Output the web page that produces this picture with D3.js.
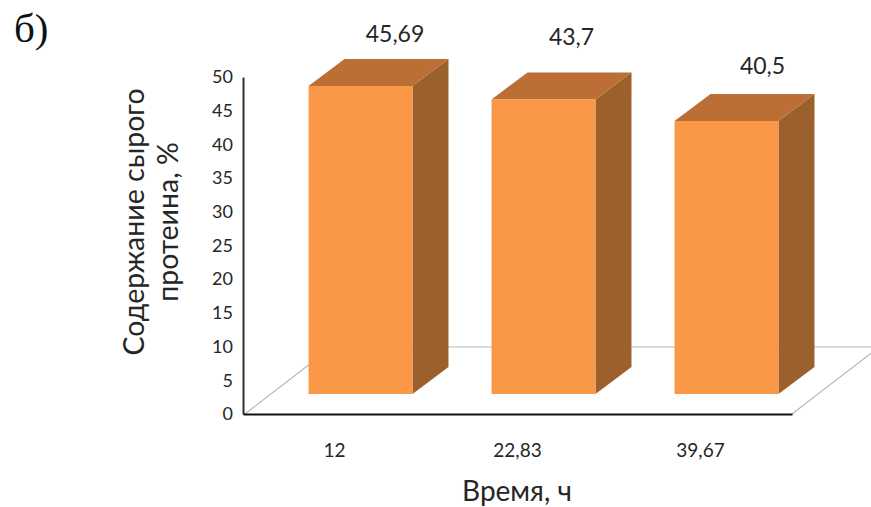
<!DOCTYPE html>
<html>
<head>
<meta charset="utf-8">
<script src="https://cdn.jsdelivr.net/npm/d3@7"></script>
<style>
html,body{margin:0;padding:0;background:#fff}
text{font-family:"Lato","Open Sans",sans-serif;fill:#262626}
</style>
</head>
<body>
<svg id="chart" width="871" height="507"></svg>
<script>
const categories = ["12", "22,83", "39,67"];
const protein = [45.69, 43.7, 40.5];
const valueLabels = ["45,69", "43,7", "40,5"];
const yTicks = [0, 5, 10, 15, 20, 25, 30, 35, 40, 45, 50];
const panelLabel = "б)";
const yTitle = ["Содержание сырого", "протеина, %"];
const xTitle = "Время, ч";

const svg = d3.select("#chart");

const plot = {left: 243, right: 792, top: 77, bottom: 414};
const x = d3.scaleBand().domain(categories).range([plot.left, plot.right])
  .paddingInner(0.432).paddingOuter(0.216);
const y = d3.scaleLinear().domain([0, 50]).range([plot.bottom, plot.top]);

// Oblique projection: the floor recedes along this vector, bars stand in its middle
const floorDepth = {dx: 87, dy: -67};
const barOffset = {dx: 26, dy: -20};
const barDepth = {dx: 36, dy: -27};

const poly = pts => pts.map(p => p.join(",")).join(" ");

// Floor outline (back and side edges)
const floorColor = "#b8b8b8";
const floorEdges = [
  [[plot.left + 2, plot.bottom], [plot.left + floorDepth.dx + 2, plot.bottom + floorDepth.dy]],
  [[plot.left + floorDepth.dx + 2, plot.bottom + floorDepth.dy], [plot.right + floorDepth.dx, plot.bottom + floorDepth.dy]],
  [[plot.right, plot.bottom], [plot.right + floorDepth.dx, plot.bottom + floorDepth.dy]]
];
svg.append("g").selectAll("line").data(floorEdges).join("line")
  .attr("x1", d => d[0][0]).attr("y1", d => d[0][1])
  .attr("x2", d => d[1][0]).attr("y2", d => d[1][1])
  .attr("stroke", floorColor).attr("stroke-width", 1.2);

// 3D bars
const bars = svg.append("g").selectAll("g").data(categories.map((c, i) => ({c, v: protein[i], label: valueLabels[i]}))).join("g");

const front = d => {
  const x0 = x(d.c) + barOffset.dx, x1 = x0 + x.bandwidth();
  const yb = plot.bottom + barOffset.dy, yt = yb - (plot.bottom - y(d.v));
  return {x0, x1, yb, yt};
};
bars.append("polygon").attr("fill", "#9c602c").attr("points", d => {
  const f = front(d);
  return poly([[f.x1, f.yt], [f.x1 + barDepth.dx, f.yt + barDepth.dy], [f.x1 + barDepth.dx, f.yb + barDepth.dy], [f.x1, f.yb]]);
});
bars.append("polygon").attr("fill", "#bb6f34").attr("points", d => {
  const f = front(d);
  return poly([[f.x0, f.yt], [f.x0 + barDepth.dx, f.yt + barDepth.dy], [f.x1 + barDepth.dx, f.yt + barDepth.dy], [f.x1, f.yt]]);
});
bars.append("polygon").attr("fill", "#fb9847").attr("points", d => {
  const f = front(d);
  return poly([[f.x0, f.yt], [f.x1, f.yt], [f.x1, f.yb], [f.x0, f.yb]]);
});

// Value labels were placed by hand, so each keeps its own offset from its bar
const labelDx = [86.5, 80, 88];
const labelDy = [-44, -54, -47];
bars.append("text")
  .attr("x", (d, i) => front(d).x0 + labelDx[i])
  .attr("y", (d, i) => front(d).yt + labelDy[i])
  .attr("text-anchor", "middle")
  .attr("font-size", 23)
  .text(d => d.label);

// Axes
const yAxis = d3.axisLeft(y).tickValues(yTicks).tickSize(0).tickPadding(10);
const gy = svg.append("g").attr("transform", `translate(${plot.left},0)`).call(yAxis);
gy.select(".domain").attr("stroke", "#303030").attr("stroke-width", 2);
gy.selectAll("text").attr("font-size", 18);

const xAxis = d3.axisBottom(x).tickSize(0).tickPadding(29.5);
const gx = svg.append("g").attr("transform", `translate(0,${plot.bottom})`).call(xAxis);
gx.select(".domain").attr("stroke", "#111").attr("stroke-width", 2);
gx.selectAll("text").attr("font-size", 19);

// Titles
svg.append("text").attr("x", 14).attr("y", 42).attr("font-size", 41)
  .style("font-family", '"Liberation Serif",serif').style("fill", "#111").text(panelLabel);
svg.append("text").attr("x", 517).attr("y", 501).attr("text-anchor", "middle").attr("font-size", 28).text(xTitle);
const yt = svg.append("text").attr("transform", "translate(144,222) rotate(-90)").attr("text-anchor", "middle").attr("font-size", 28.5);
yTitle.forEach((line, i) => yt.append("tspan").attr("x", 0).attr("dy", i ? 34 : 0).text(line));
</script>
</body>
</html>
